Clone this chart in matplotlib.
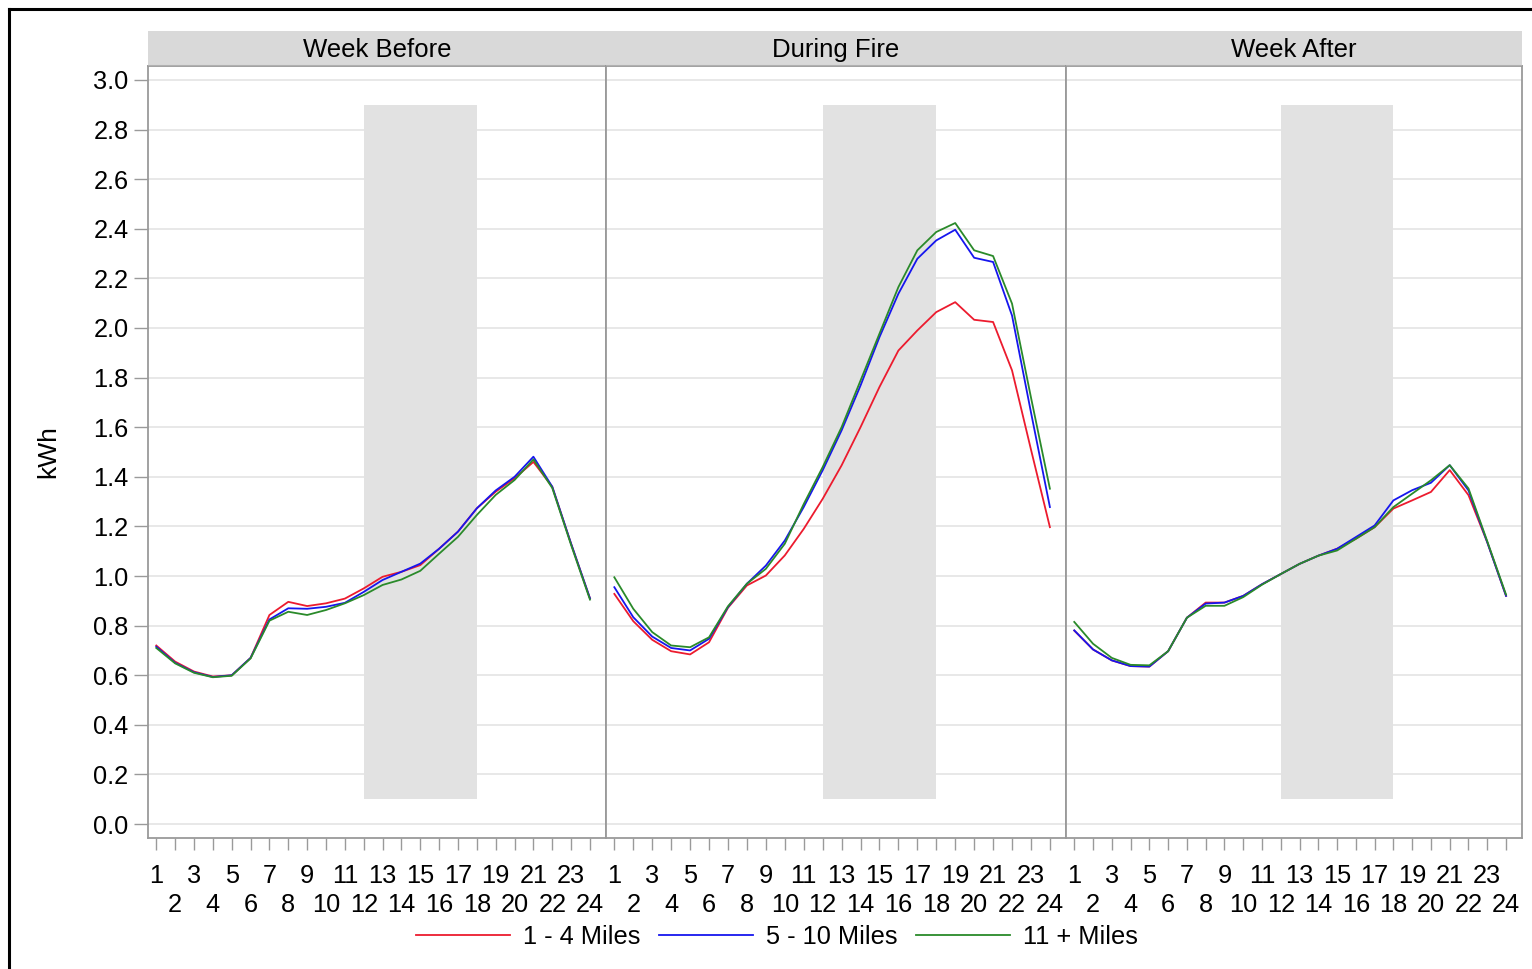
import matplotlib.pyplot as plt
from matplotlib.patches import Rectangle
from matplotlib.lines import Line2D

plt.rcParams['font.family'] = ['Liberation Sans', 'DejaVu Sans']

# Hourly average consumption (kWh) by distance from the fire
hours = list(range(1, 25))
periods = ["Week Before", "During Fire", "Week After"]
series_names = ["1 - 4 Miles", "5 - 10 Miles", "11 + Miles"]
series_colors = ["#ec1b2e", "#1616ee", "#2a8a2a"]

before_1_4 = [0.72, 0.655, 0.615, 0.595, 0.600, 0.670, 0.843, 0.896, 0.879, 0.890, 0.909, 0.950,
              0.997, 1.017, 1.044, 1.110, 1.179, 1.273, 1.340, 1.394, 1.460, 1.360, 1.130, 0.910]
before_5_10 = [0.715, 0.650, 0.612, 0.593, 0.600, 0.670, 0.825, 0.870, 0.868, 0.876, 0.892, 0.936,
               0.984, 1.017, 1.050, 1.110, 1.179, 1.273, 1.345, 1.400, 1.481, 1.360, 1.130, 0.910]
before_11 = [0.710, 0.648, 0.610, 0.592, 0.598, 0.668, 0.820, 0.856, 0.843, 0.863, 0.890, 0.923,
             0.964, 0.986, 1.021, 1.090, 1.158, 1.246, 1.327, 1.387, 1.470, 1.355, 1.125, 0.905]

fire_1_4 = [0.928, 0.818, 0.743, 0.697, 0.684, 0.733, 0.872, 0.962, 1.002, 1.083, 1.190, 1.311,
            1.446, 1.600, 1.762, 1.909, 1.990, 2.064, 2.104, 2.033, 2.024, 1.829, 1.510, 1.197]
fire_5_10 = [0.955, 0.834, 0.756, 0.710, 0.700, 0.747, 0.875, 0.969, 1.042, 1.143, 1.278, 1.426,
             1.587, 1.768, 1.963, 2.138, 2.279, 2.353, 2.396, 2.283, 2.266, 2.050, 1.660, 1.278]
fire_11 = [0.995, 0.868, 0.774, 0.720, 0.713, 0.753, 0.878, 0.969, 1.029, 1.130, 1.290, 1.439,
           1.600, 1.788, 1.977, 2.165, 2.313, 2.387, 2.423, 2.313, 2.290, 2.098, 1.720, 1.352]

after_1_4 = [0.780, 0.704, 0.660, 0.637, 0.635, 0.697, 0.832, 0.893, 0.893, 0.920, 0.967, 1.008,
             1.049, 1.082, 1.110, 1.150, 1.197, 1.272, 1.305, 1.339, 1.427, 1.326, 1.136, 0.920]
after_5_10 = [0.781, 0.704, 0.660, 0.637, 0.635, 0.697, 0.832, 0.889, 0.893, 0.920, 0.967, 1.008,
              1.049, 1.082, 1.110, 1.157, 1.204, 1.305, 1.346, 1.376, 1.447, 1.345, 1.136, 0.920]
after_11 = [0.815, 0.727, 0.670, 0.642, 0.640, 0.697, 0.832, 0.880, 0.880, 0.915, 0.965, 1.008,
            1.049, 1.082, 1.103, 1.150, 1.197, 1.278, 1.332, 1.386, 1.447, 1.353, 1.140, 0.925]

panel_data = [
    [before_1_4, before_5_10, before_11],
    [fire_1_4, fire_5_10, fire_11],
    [after_1_4, after_5_10, after_11],
]

# shaded peak window
peak_hours = (12, 18)
peak_kwh = (0.1, 2.9)

yticks = [round(0.2 * i, 1) for i in range(16)]
odd_hours = [h for h in hours if h % 2]
even_hours = [h for h in hours if h % 2 == 0]

W, H = 1532, 969
fig = plt.figure(figsize=(W / 100, H / 100), dpi=100)

lefts = [148, 606, 1066]
rights = [606, 1066, 1522]
top, bottom, strip_top = 66, 838, 31

frame_col = "#9a9a9a"
fs = 18.3
axes = []
for i, name in enumerate(periods):
    l, r = lefts[i], rights[i]
    ax = fig.add_axes([l / W, 1 - bottom / H, (r - l) / W, (bottom - top) / H])
    ax.set_axisbelow(True)
    ax.add_patch(Rectangle((peak_hours[0], peak_kwh[0]), peak_hours[1] - peak_hours[0],
                           peak_kwh[1] - peak_kwh[0], facecolor="#e2e2e2", edgecolor="none", zorder=1))
    for vals, lab, col in zip(panel_data[i], series_names, series_colors):
        ax.plot(hours, vals, color=col, lw=1.3, label=lab, zorder=3)
    ax.set_xlim(0.56, 24.85)
    ax.set_ylim(-0.056, 3.056)

    # odd hours on the first row, even hours staggered below
    ax.set_xticks(odd_hours)
    ax.set_xticklabels([str(h) for h in odd_hours])
    ax.set_xticks(even_hours, minor=True)
    ax.set_xticklabels([str(h) for h in even_hours], minor=True)
    ax.tick_params(axis="x", which="both", direction="out", length=8.5, width=1,
                   color=frame_col, labelsize=fs)
    ax.tick_params(axis="x", which="major", pad=10)
    ax.tick_params(axis="x", which="minor", pad=31)

    ax.set_yticks(yticks)
    ax.yaxis.grid(True, color="#e6e6e6", lw=1.3)
    if i == 0:
        ax.set_yticklabels([f"{v:.1f}" for v in yticks])
        ax.tick_params(axis="y", direction="out", length=10, width=1, color=frame_col,
                       labelsize=fs, pad=4)
        ax.set_ylabel("kWh", fontsize=19, labelpad=24)
    else:
        ax.tick_params(axis="y", left=False, labelleft=False)
    for sp in ax.spines.values():
        sp.set_color(frame_col)
        sp.set_linewidth(1.3)

    # panel header strip
    sax = fig.add_axes([l / W, 1 - top / H, (r - l) / W, (top - strip_top) / H])
    sax.set_facecolor("#d9d9d9")
    sax.set_xticks([])
    sax.set_yticks([])
    for sp in sax.spines.values():
        sp.set_visible(False)
    sax.axhline(0, color="#b0b0b0", lw=1.5)
    sax.text(0.5, 0.45, name, ha="center", va="center", fontsize=18.5, transform=sax.transAxes)
    axes.append(ax)

handles, labels = axes[0].get_legend_handles_labels()
fig.legend(handles, labels, loc="center", bbox_to_anchor=(777 / W, 1 - 937 / H), ncol=3,
           frameon=False, fontsize=fs, handlelength=3.7, handletextpad=0.5, columnspacing=0.75)

# outer frame
fig.add_artist(Line2D([8.5 / W, 8.5 / W], [0, 1 - 9 / H], color="black", lw=2.2))
fig.add_artist(Line2D([8.5 / W, 1], [1 - 9 / H, 1 - 9 / H], color="black", lw=2.2))

fig.savefig("out.png", dpi=100)
